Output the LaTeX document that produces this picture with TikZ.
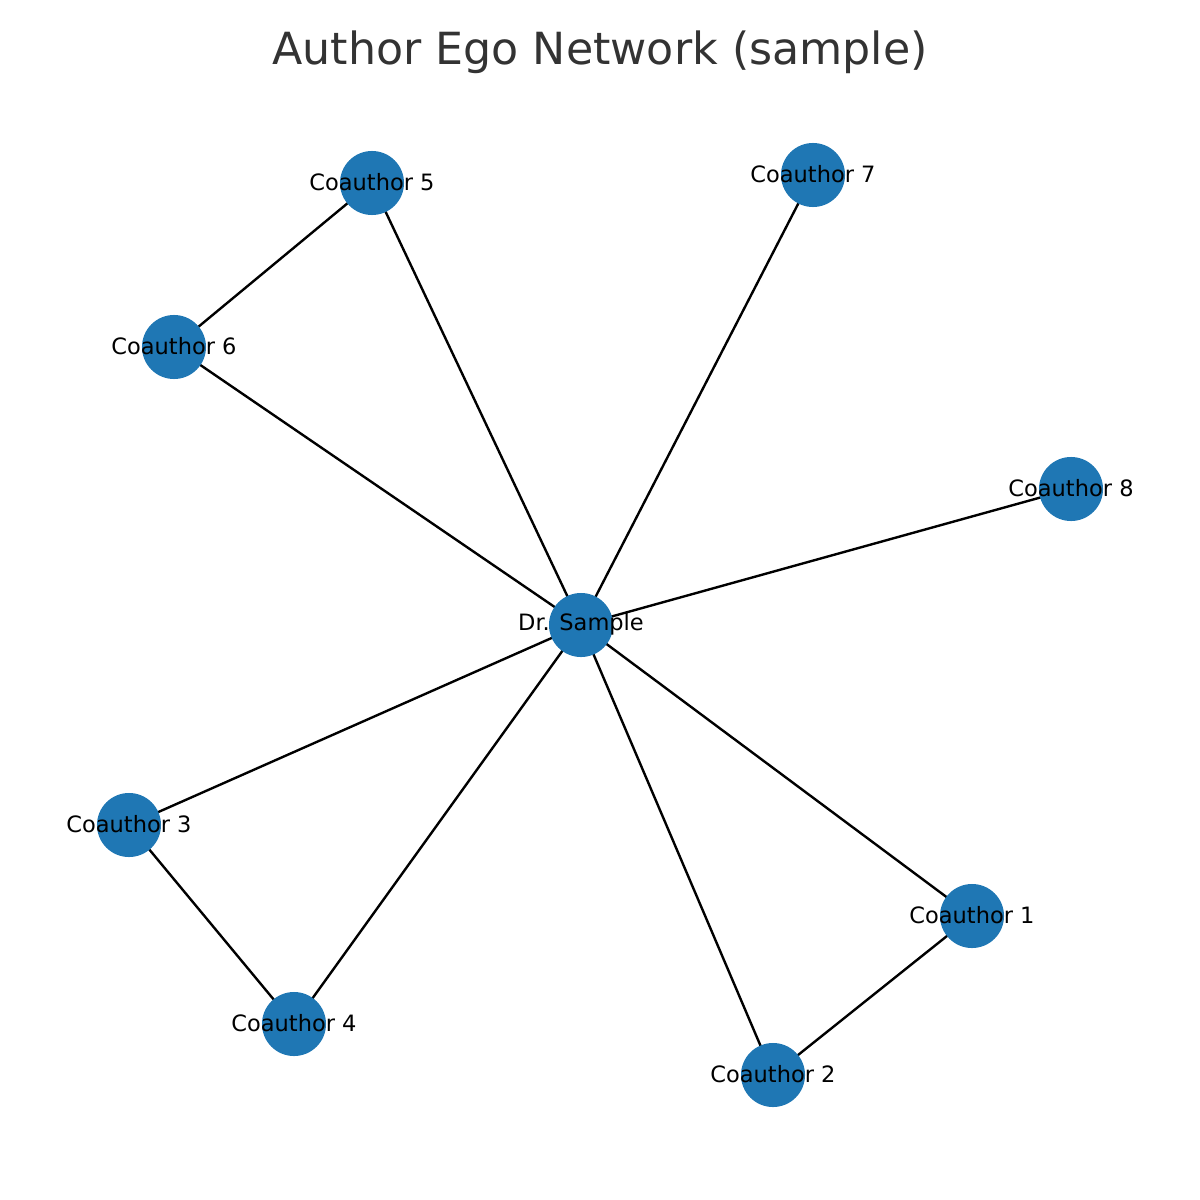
\documentclass[tikz,border=0pt]{standalone}
\usepackage{fontspec}
\setmainfont{DejaVu Sans}
\usetikzlibrary{backgrounds}
\definecolor{nodeblue}{HTML}{1F77B4}
\definecolor{titlegray}{HTML}{333333}

\begin{document}
\begin{tikzpicture}[
x=0.01cm, y=-0.01cm,
vertex/.style={
circle,
fill=nodeblue,
inner sep=0pt,
minimum size=0.64cm
},
lab/.style={font=\fontsize{6.4}{7}\selectfont, inner sep=0pt, text=black, yshift=0.3pt},
edge/.style={line width=0.68pt, black}
]
\useasboundingbox (0,0) rectangle (1200,1200);

% Title
\node[font=\fontsize{12.6}{15}\selectfont, text=titlegray] (title) at (600,52) {Author Ego Network (sample)};

% Nodes
\node[vertex] (ego) at (581,625) {};
\node[vertex] (c1) at (972,916) {};
\node[vertex] (c2) at (773,1075) {};
\node[vertex] (c3) at (129,825) {};
\node[vertex] (c4) at (294,1024) {};
\node[vertex] (c5) at (372,183) {};
\node[vertex] (c6) at (174,347) {};
\node[vertex] (c7) at (813,175) {};
\node[vertex] (c8) at (1071,489) {};

% Edges
\begin{pgfonlayer}{background}
\foreach \n in {c1,c2,c3,c4,c5,c6,c7,c8}
  \draw[edge] (ego.center) -- (\n.center);
\draw[edge] (c1.center) -- (c2.center);
\draw[edge] (c3.center) -- (c4.center);
\draw[edge] (c5.center) -- (c6.center);
\end{pgfonlayer}

% Labels
\node[lab] (egolab) at (ego) {Dr. Sample};
\foreach \i in {1,...,8}
  \node[lab] (c\i lab) at (c\i) {Coauthor \i};

\end{tikzpicture}
\end{document}
